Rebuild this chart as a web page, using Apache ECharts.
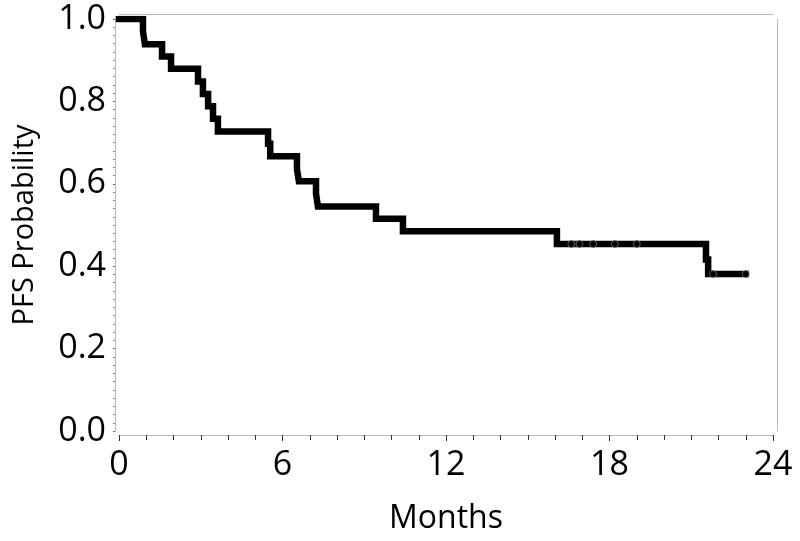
<!DOCTYPE html>
<html>
<head>
<meta charset="utf-8">
<script src="https://cdn.jsdelivr.net/npm/echarts@6/dist/echarts.min.js"></script>
<style>html,body{margin:0;padding:0;background:#fff;}#c{width:800px;height:541px;}</style>
</head>
<body>
<div id="c"></div>
<script>
// Kaplan-Meier PFS step curve (months, probability)
var eventTimes = [0, 0.88, 0.95, 1.58, 1.91, 2.90, 3.08, 3.27, 3.45, 3.63, 5.47, 5.55, 6.53, 6.60, 7.23, 7.30, 9.43, 10.42, 16.07, 21.54, 21.62, 23.0];
var survival   = [1.0, 0.970, 0.939, 0.909, 0.879, 0.848, 0.818, 0.788, 0.758, 0.727, 0.697, 0.667, 0.636, 0.606, 0.576, 0.545, 0.515, 0.485, 0.454, 0.416, 0.381, 0.381];
// censored observations
var censorTimes = [16.6, 16.9, 17.4, 18.2, 19.0, 21.8, 23.0];
var censorSurv  = [0.454, 0.454, 0.454, 0.454, 0.454, 0.381, 0.381];
var xTicks = [0, 6, 12, 18, 24];
var yTicks = [0.0, 0.2, 0.4, 0.6, 0.8, 1.0];
var xTitle = 'Months';
var yTitle = 'PFS Probability';

var curve = eventTimes.map(function (t, i) { return [t, survival[i]]; });
var censored = censorTimes.map(function (t, i) { return [t, censorSurv[i]]; });

var FONT = 'Open Sans';
var frameColor = '#b8b8b8';
var chart = echarts.init(document.getElementById('c'), null, {renderer: 'canvas'});
chart.setOption({
  animation: false,
  backgroundColor: '#ffffff',
  grid: {left: 119, right: 27, top: 19, bottom: 110, containLabel: false},
  xAxis: [{
    type: 'value', min: xTicks[0], max: xTicks[xTicks.length - 1], interval: 6,
    position: 'bottom', offset: 4,
    name: xTitle, nameLocation: 'middle', nameGap: 68,
    nameTextStyle: {fontFamily: FONT, fontSize: 32, color: '#000'},
    axisLine: {show: true, onZero: false, lineStyle: {color: frameColor, width: 1}},
    axisTick: {show: true, inside: false, length: 6, lineStyle: {color: '#333', width: 1}},
    minorTick: {show: true, splitNumber: 6, length: 5, lineStyle: {color: '#333', width: 1}},
    axisLabel: {fontFamily: FONT, fontSize: 34, color: '#000', margin: 13},
    splitLine: {show: false}
  }, {
    type: 'value', min: xTicks[0], max: xTicks[xTicks.length - 1],
    position: 'top', offset: 5,
    axisLine: {show: true, onZero: false, lineStyle: {color: frameColor, width: 1}},
    axisTick: {show: false}, axisLabel: {show: false}, splitLine: {show: false}
  }],
  yAxis: [{
    type: 'value', min: yTicks[0], max: yTicks[yTicks.length - 1], interval: 0.2,
    position: 'left', offset: 4,
    name: yTitle, nameLocation: 'middle', nameGap: 76, nameRotate: 90,
    nameTextStyle: {fontFamily: FONT, fontSize: 29, color: '#000'},
    axisLine: {show: true, onZero: false, lineStyle: {color: frameColor, width: 1}},
    axisTick: {show: true, inside: false, length: 2, lineStyle: {color: '#666', width: 1}},
    minorTick: {show: true, splitNumber: 10, length: 2, lineStyle: {color: '#888', width: 1}},
    axisLabel: {fontFamily: FONT, fontSize: 34, color: '#000', margin: 9,
      formatter: function (v) { return v.toFixed(1); }},
    splitLine: {show: false}
  }, {
    type: 'value', min: yTicks[0], max: yTicks[yTicks.length - 1],
    position: 'right', offset: 4,
    axisLine: {show: true, onZero: false, lineStyle: {color: frameColor, width: 1}},
    axisTick: {show: false}, axisLabel: {show: false}, splitLine: {show: false}
  }],
  series: [{
    type: 'line', data: curve, step: 'end', xAxisIndex: 0, yAxisIndex: 0,
    showSymbol: false, symbol: 'none',
    lineStyle: {color: '#000', width: 6.5, cap: 'square', join: 'miter'},
    z: 2
  }, {
    type: 'scatter', data: censored, xAxisIndex: 0, yAxisIndex: 0,
    symbol: 'circle', symbolSize: 7,
    itemStyle: {color: '#000', borderColor: '#777', borderWidth: 1},
    z: 3
  }]
});
</script>
</body>
</html>
